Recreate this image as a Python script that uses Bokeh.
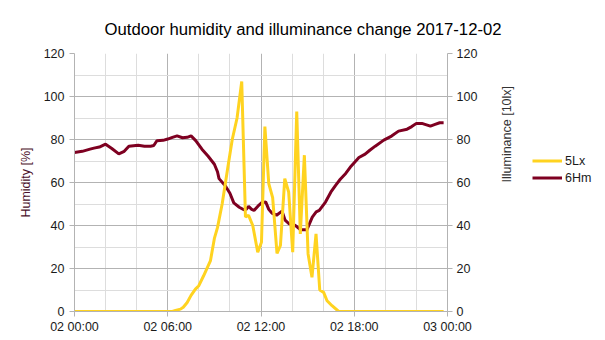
import math
from bokeh.plotting import figure
from bokeh.layouts import row
from bokeh.models import Range1d, LinearAxis, FixedTicker, Legend, LegendItem
from bokeh.embed import file_html
from bokeh.resources import INLINE

# Humidity (6Hm) - hour of day, percent
hum_h = [0.0, 0.5, 1.0, 1.25, 1.6, 2.0, 2.4, 2.85, 3.2, 3.5, 4.1, 4.5, 4.9, 5.1, 5.3,
         5.7, 6.0, 6.3, 6.6, 6.95, 7.25, 7.5, 7.8, 8.2, 8.6, 9.0, 9.2, 9.3, 9.7, 10.0,
         10.25, 10.6, 10.9, 11.05, 11.2, 11.4, 11.55, 11.8, 12.05, 12.3, 12.5, 12.7,
         13.0, 13.35, 13.55, 13.8, 14.1, 14.3, 14.55, 14.95, 15.3, 15.55, 15.75, 16.15,
         16.5, 16.8, 17.1, 17.45, 17.75, 18.1, 18.3, 18.7, 19.0, 19.35, 19.9, 20.4,
         20.85, 21.4, 21.7, 22.0, 22.35, 22.9, 23.2, 23.5, 23.75]
hum_v = [74.0, 74.5, 75.5, 76.0, 76.5, 77.8, 75.8, 73.3, 74.5, 76.9, 77.3, 76.9, 76.9, 77.2, 79.4,
         79.6, 80.2, 81.0, 81.7, 80.8, 81.0, 81.7, 79.5, 75.5, 72.2, 68.5, 65.0, 61.8, 58.5, 55.0,
         50.5, 48.5, 47.3, 47.5, 48.9, 47.5, 47.0, 49.0, 50.6, 51.0, 47.5, 45.8,
         44.8, 46.7, 42.5, 40.8, 40.5, 39.5, 38.0, 38.0, 43.9, 46.3, 47.0, 50.9,
         55.6, 58.7, 61.5, 64.2, 67.2, 70.0, 71.6, 73.2, 75.0, 76.9, 79.7, 81.6,
         83.9, 84.8, 86.0, 87.5, 87.5, 86.2, 87.0, 87.8, 87.8]

# Illuminance (5Lx) - hour of day, 10 lx
lux_h = [0.0, 6.3, 6.5, 6.82, 7.0, 7.25, 7.5, 7.78, 8.0, 8.3, 8.75, 9.0, 9.2, 9.5, 9.93,
         10.15, 10.46, 10.76, 11.0, 11.2, 11.47, 11.79, 12.03, 12.25, 12.5, 12.75, 13.03,
         13.25, 13.53, 13.78, 14.04, 14.3, 14.53, 14.79, 15.03, 15.28, 15.54, 15.78,
         16.03, 16.25, 16.57, 17.0, 23.75]
lux_v = [0.0, 0.0, 0.5, 1.1, 2.0, 4.2, 7.5, 10.4, 12.0, 16.5, 23.7, 34.0, 39.0, 50.0, 70.0,
         80.0, 90.0, 107.0, 44.0, 44.7, 40.0, 27.6, 32.2, 86.0, 59.5, 53.0, 27.0,
         30.7, 61.8, 55.6, 27.6, 93.0, 36.1, 72.7, 26.8, 15.9, 36.1, 10.0,
         8.9, 5.0, 2.7, 0.0, 0.0]

series_names = ["5Lx", "6Hm"]
x_ticks = [0, 6, 12, 18, 24]
x_tick_labels = ["02 00:00", "02 06:00", "02 12:00", "02 18:00", "03 00:00"]
x_minor = [2, 4, 8, 10, 14, 16, 20, 22]
y_ticks = [0, 20, 40, 60, 80, 100, 120]
y_minor = [10, 30, 50, 70, 90, 110]

FONT = "Liberation Sans"
GRID_MAJ = "#b3b3b3"
GRID_MIN = "#dddddd"
C_LUX = "#FFD320"
C_HUM = "#7E0021"

p = figure(width=525, height=340, output_backend="svg", toolbar_location=None,
           x_range=Range1d(0, 24), y_range=Range1d(0, 120),
           min_border_left=74, min_border_right=78, min_border_top=53, min_border_bottom=29,
           title="Outdoor humidity and illuminance change 2017-12-02")
p.extra_y_ranges = {"lux": Range1d(0, 120)}
p.outline_line_color = None
p.background_fill_color = "white"
p.border_fill_color = "white"

t = p.title
t.align = "left"
t.offset = 30
t.standoff = 30
t.text_font = FONT
t.text_font_size = "16.7px"
t.text_font_style = "normal"
t.text_color = "#000000"

def style_axis(ax):
    ax.axis_line_color = GRID_MAJ
    ax.major_tick_line_color = GRID_MAJ
    ax.major_tick_out = 5
    ax.major_tick_in = 0
    ax.minor_tick_line_color = None
    ax.major_label_text_font = FONT
    ax.major_label_text_font_size = "12.5px"
    ax.major_label_text_color = "#1a1a1a"
    ax.axis_label_text_font = FONT
    ax.axis_label_text_font_size = "12.5px"
    ax.axis_label_text_font_style = "normal"

xa = p.xaxis[0]
xa.ticker = FixedTicker(ticks=x_ticks, minor_ticks=x_minor)
xa.major_label_overrides = {k: v for k, v in zip(x_ticks, x_tick_labels)}
style_axis(xa)
xa.major_label_standoff = 3

ya = p.yaxis[0]
ya.ticker = FixedTicker(ticks=y_ticks, minor_ticks=y_minor)
ya.axis_label = "Humidity [%]"
style_axis(ya)
ya.major_label_standoff = 5
ya.axis_label_standoff = 8
ya.axis_label_text_color = "#4a0f2a"

yr = LinearAxis(y_range_name="lux", axis_label="Illuminance [10lx]",
                ticker=FixedTicker(ticks=y_ticks, minor_ticks=y_minor))
style_axis(yr)
yr.major_label_standoff = 4
yr.axis_label_standoff = 27
yr.axis_label_orientation = math.pi / 2
yr.axis_label_text_color = "#333333"
p.add_layout(yr, "right")

p.xgrid.grid_line_color = GRID_MAJ
p.xgrid.minor_grid_line_color = GRID_MIN
p.ygrid.grid_line_color = GRID_MAJ
p.ygrid.minor_grid_line_color = GRID_MIN

p.line(hum_h, hum_v, line_color=C_HUM, line_width=3)
p.line(lux_h, lux_v, line_color=C_LUX, line_width=3, y_range_name="lux")

# legend panel to the right of the chart (its ranges keep the series out of view)
lg = figure(width=80, height=340, output_backend="svg", toolbar_location=None,
            x_range=Range1d(1000, 1001), y_range=Range1d(1000, 1001),
            x_axis_location=None, y_axis_location=None, min_border=0)
lg.outline_line_color = None
lg.grid.visible = False
lg.background_fill_color = "white"
lg.border_fill_color = "white"
k_lux = lg.line(lux_h, lux_v, line_color=C_LUX, line_width=3)
k_hum = lg.line(hum_h, hum_v, line_color=C_HUM, line_width=3)

legend = Legend(items=[LegendItem(label=series_names[0], renderers=[k_lux]),
                       LegendItem(label=series_names[1], renderers=[k_hum])],
                location=(7, 125))
legend.padding = 0
legend.margin = 0
legend.spacing = 0
legend.border_line_alpha = 0
legend.background_fill_alpha = 0
legend.glyph_width = 30
legend.glyph_height = 17
legend.label_height = 17
legend.label_standoff = 3
legend.label_text_font = FONT
legend.label_text_font_size = "12.5px"
legend.label_text_color = "#1a1a1a"
lg.add_layout(legend)

layout = row(p, lg, spacing=0)
open("out.html", "w").write(file_html(layout, INLINE))
